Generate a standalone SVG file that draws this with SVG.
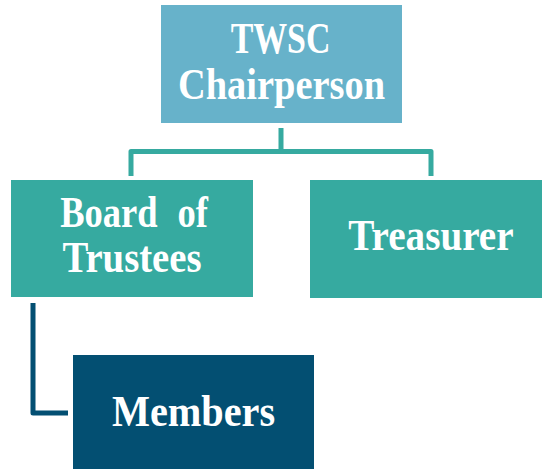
<svg xmlns="http://www.w3.org/2000/svg" width="542" height="469" viewBox="0 0 542 469">
<style>
.t{font-family:"Liberation Serif","Times New Roman",serif;font-weight:bold;font-size:44px;fill:#ffffff;text-anchor:middle}
.c{fill:none;stroke-width:5;stroke-linejoin:round}
</style>
<rect width="542" height="469" fill="#ffffff"/>
<g id="connectors">
<path class="c" stroke="#36AAA0" d="M281,128 V151.5 M131,176 V151.5 H431 V176"/>
<path class="c" stroke="#034F72" d="M33,303 V413 H68"/>
</g>
<g id="chairperson">
<rect x="161" y="5" width="241" height="118" fill="#67B2CA"/>
<text class="t" transform="translate(280.5,53) scale(0.77,1)">TWSC</text>
<text class="t" transform="translate(281.5,99) scale(0.873,1)">Chairperson</text>
</g>
<g id="board">
<rect x="11" y="180" width="242" height="117" fill="#36AAA0"/>
<text class="t" transform="translate(134,227) scale(0.83,1)" word-spacing="13">Board of</text>
<text class="t" transform="translate(132,272) scale(0.88,1)">Trustees</text>
</g>
<g id="treasurer">
<rect x="310" y="180" width="232" height="118" fill="#36AAA0"/>
<text class="t" transform="translate(431,250) scale(0.89,1)">Treasurer</text>
</g>
<g id="members">
<rect x="73" y="355" width="241" height="114" fill="#034F72"/>
<text class="t" transform="translate(193.5,426) scale(0.915,1)">Members</text>
</g>
</svg>
